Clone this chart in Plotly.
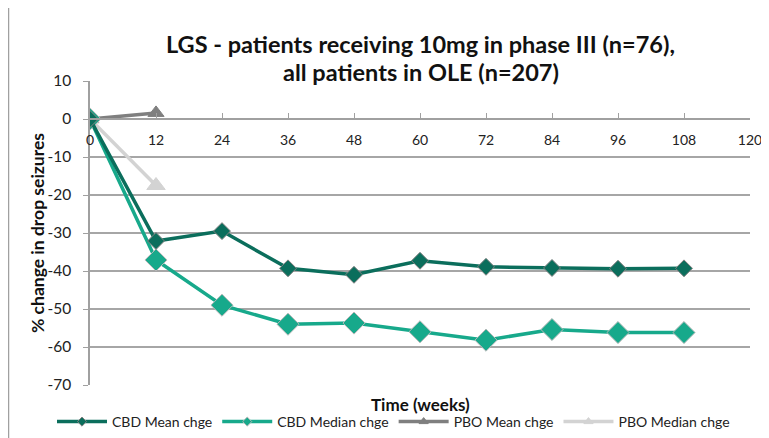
import plotly.graph_objects as go

weeks = [0, 12, 24, 36, 48, 60, 72, 84, 96, 108]
cbd_mean = [0, -32.1, -29.5, -39.3, -41.0, -37.3, -38.9, -39.2, -39.4, -39.3]
cbd_median = [0, -37.1, -49.0, -54.0, -53.7, -56.0, -58.2, -55.4, -56.2, -56.2]
pbo_weeks = [0, 12]
pbo_mean = [0, 1.6]
pbo_median = [0, -17.5]
x_ticks = [0, 12, 24, 36, 48, 60, 72, 84, 96, 108, 120]
y_ticks = [10, 0, -10, -20, -30, -40, -50, -60, -70]

FONT = "Lato, 'Open Sans', sans-serif"
W, H = 769, 438
OFF = 8  # page offset of the figure (body margin)
L, T = 90 - OFF, 81 - OFF
PW, PH = 660, 304
R = W - L - PW
B = H - T - PH


def px(x):
    return (x - OFF - L) / PW


def py(y):
    return (H - B - (y - OFF)) / PH


series = [
    # name, x, y, color, symbol, size, border, legend marker size
    ("PBO Median chge", pbo_weeks, pbo_median, "#d3d3d3", "triangle-up", 16, "#d3d3d3", 8),
    ("PBO Mean chge", pbo_weeks, pbo_mean, "#7f7f7f", "triangle-up", 14, "#7f7f7f", 8),
    ("CBD Median chge", weeks, cbd_median, "#17a98b", "diamond", 17, "#b8b8b8", 7),
    ("CBD Mean chge", weeks, cbd_mean, "#0b6e5c", "diamond", 13, "#808080", 7),
]

fig = go.Figure()
for name, xs, ys, col, sym, size, border, lsize in series:
    fig.add_trace(go.Scatter(x=xs, y=ys, name=name, mode="lines+markers", showlegend=False,
                             line=dict(color=col, width=3.5),
                             marker=dict(symbol=sym, size=size, color=col,
                                         line=dict(color=border, width=1))))
for name, xs, ys, col, sym, size, border, lsize in series:
    fig.add_trace(go.Scatter(x=[None], y=[None], name=name, mode="lines+markers",
                             line=dict(color=col, width=3.5),
                             marker=dict(symbol=sym, size=lsize, color=col,
                                         line=dict(color=border, width=1))))

fig.update_layout(
    width=W, height=H,
    margin=dict(l=L, r=R, t=T, b=B, autoexpand=False),
    paper_bgcolor="white", plot_bgcolor="white",
    font=dict(family=FONT, size=13, color="#222"),
    showlegend=True,
    legend=dict(orientation="h", x=px(52), xanchor="left",
                y=py(422), yanchor="middle",
                traceorder="reversed", font=dict(size=14, color="#222"),
                itemwidth=50, tracegroupgap=0),
    xaxis=dict(range=[0, 120], tickvals=x_ticks, ticktext=[str(v) for v in x_ticks],
               anchor="free", position=0.875, showline=True, linecolor="#a0a0a0", linewidth=1.5,
               ticks="inside", ticklen=5, tickcolor="#a0a0a0", showgrid=False, zeroline=False,
               ticklabelstandoff=8,
               tickfont=dict(size=14, color="#222"), automargin=False, domain=[0, 1]),
    yaxis=dict(range=[-70, 10], tickvals=y_ticks, ticktext=[str(v) for v in y_ticks],
               showline=True, linecolor="#a0a0a0", linewidth=1.5, ticks="outside", ticklen=5,
               tickcolor="#a0a0a0", showgrid=True, gridcolor="#a6a6a6", gridwidth=1.5,
               zeroline=False, ticklabelstandoff=9,
               tickfont=dict(size=15.5, color="#222"), automargin=False),
    annotations=[
        dict(text="<b>LGS - patients receiving 10mg in phase III (n=76),</b>", x=px(421),
             xref="paper", xanchor="center", y=py(44), yref="paper", yanchor="middle",
             showarrow=False, font=dict(size=23.5, color="#111")),
        dict(text="<b>all patients in OLE (n=207)</b>", x=px(421),
             xref="paper", xanchor="center", y=py(71.5), yref="paper", yanchor="middle",
             showarrow=False, font=dict(size=23.5, color="#111")),
        dict(text="<b>Time (weeks)</b>", x=px(420), xref="paper", xanchor="center",
             y=py(404), yref="paper", yanchor="middle", showarrow=False,
             font=dict(size=17, color="#111")),
        dict(text="<b>% change in drop seizures</b>", x=px(37), xref="paper", xanchor="center",
             y=py(233), yref="paper", yanchor="middle", textangle=-90, showarrow=False,
             font=dict(size=17.5, color="#111")),
    ],
    shapes=[dict(type="line", xref="paper", yref="paper", x0=px(8.5), x1=px(8.5),
                 y0=py(H + 10), y1=py(0), line=dict(color="#a0a0a0", width=1.5))],
)
fig.write_html("out.html")
